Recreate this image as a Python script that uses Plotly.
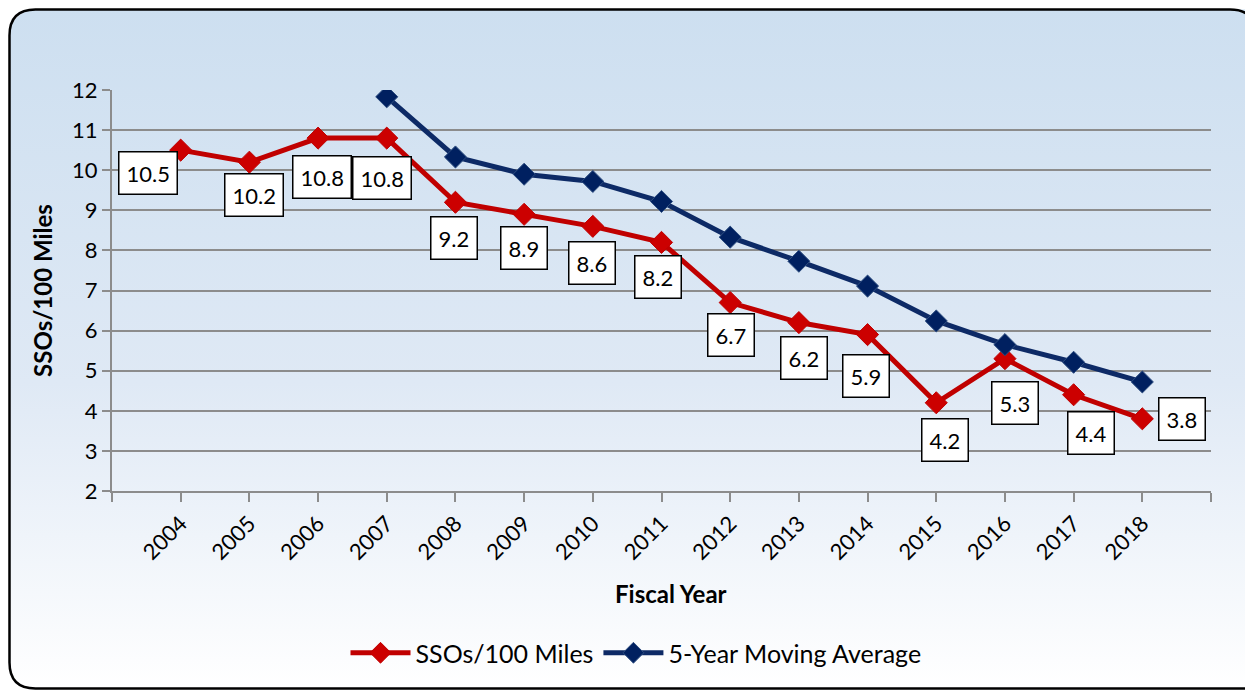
import base64
import plotly.graph_objects as go

years = [2004, 2005, 2006, 2007, 2008, 2009, 2010, 2011, 2012, 2013, 2014, 2015, 2016, 2017, 2018]
sso_per_100 = [10.5, 10.2, 10.8, 10.8, 9.2, 8.9, 8.6, 8.2, 6.7, 6.2, 5.9, 4.2, 5.3, 4.4, 3.8]
avg_years = [2007, 2008, 2009, 2010, 2011, 2012, 2013, 2014, 2015, 2016, 2017, 2018]
moving_avg = [11.83, 10.33, 9.9, 9.72, 9.22, 8.33, 7.73, 7.11, 6.24, 5.65, 5.21, 4.72]

# where each data label box sits relative to its point (pixels, right / down)
label_offsets = [(-33, 23), (5, 33), (4, 39), (-5, 40), (-1, 36), (0, 34), (-1, 37), (-4, 35),
                 (1, 32), (5, 35), (-2, 41), (9, 37), (10, 44), (17, 38), (40, 0)]

# the page puts the figure 8px in from the top-left corner, so margins are set against that
W, H = 1253, 691
L, R, T, B = 104, 50, 82, 208
pw, ph = W - L - R, H - T - B
FONT = "Lato"


def px(fx, fy):
    # figure pixel -> paper coords
    return (fx - L) / pw, (T + ph - fy) / ph


svg = f'''<svg xmlns="http://www.w3.org/2000/svg" width="{W}" height="{H}" viewBox="0 0 {W} {H}">
<defs><linearGradient id="g" x1="0" y1="0" x2="0" y2="1">
<stop offset="0" stop-color="#cddff0"/><stop offset="0.55" stop-color="#dfe9f5"/><stop offset="1" stop-color="#ffffff"/>
</linearGradient></defs>
<rect x="1.5" y="1.5" width="1300" height="679" rx="26" ry="26" fill="url(#g)"/>
</svg>'''
bg = "data:image/svg+xml;base64," + base64.b64encode(svg.encode()).decode()

# chart frame: rounded on the left, the right side runs off the picture
pts = [("M", 1248, 27.5), ("Q", 1248, 1.5, 1222, 1.5), ("L", 27.5, 1.5), ("Q", 1.5, 1.5, 1.5, 27.5),
       ("L", 1.5, 654.5), ("Q", 1.5, 680.5, 27.5, 680.5), ("L", 1300, 680.5)]
path = ""
for p in pts:
    cmd, vals = p[0], p[1:]
    coords = []
    for i in range(0, len(vals), 2):
        a, b = px(vals[i], vals[i + 1])
        coords.append(f"{a:.5f},{b:.5f}")
    path += cmd + " ".join(coords) + " "

fig = go.Figure()
fig.add_trace(go.Scatter(
    x=years, y=sso_per_100, name="SSOs/100 Miles", mode="lines+markers",
    line=dict(color="#c00000", width=5),
    marker=dict(symbol="diamond", size=17, color="#cc0000", line=dict(color="#c00000", width=1)),
))
fig.add_trace(go.Scatter(
    x=avg_years, y=moving_avg, name="5-Year Moving Average", mode="lines+markers",
    line=dict(color="#0d2a66", width=5),
    marker=dict(symbol="diamond", size=17, color="#002060", line=dict(color="#2d4d80", width=1)),
))

for yr, v, (dx, dy) in zip(years, sso_per_100, label_offsets):
    fig.add_annotation(
        x=yr, y=v, text=f"{v:.1f}", showarrow=False, xshift=dx, yshift=-dy,
        font=dict(family=FONT, size=22, color="black"),
        bgcolor="white", bordercolor="black", borderwidth=1.5, borderpad=7,
    )

# x axis title sits a little right of the plot centre in the original
tx, ty = px(663, 585)
fig.add_annotation(
    text="<b>Fiscal Year</b>", xref="paper", yref="paper", x=tx, y=ty,
    xanchor="center", yanchor="middle",
    showarrow=False, font=dict(family=FONT, size=24, color="black"),
)

fig.add_shape(type="path", path=path, xref="paper", yref="paper", layer="below",
              line=dict(color="black", width=2.5), fillcolor="rgba(0,0,0,0)")

ticks = list(range(years[0] - 1, years[-1] + 2))
tick_text = [str(t) if t in years else "" for t in ticks]
lx, ly = px(628, 645)

fig.update_layout(
    width=W, height=H,
    margin=dict(l=L, r=R, t=T, b=B),
    paper_bgcolor="white",
    plot_bgcolor="rgba(0,0,0,0)",
    font=dict(family=FONT, size=22, color="black"),
    images=[dict(source=bg, xref="paper", yref="paper", x=-L / pw, y=1 + T / ph,
                 sizex=W / pw, sizey=H / ph, xanchor="left", yanchor="top",
                 sizing="stretch", layer="below")],
    showlegend=True,
    legend=dict(orientation="h", x=lx, y=ly,
                xanchor="center", yanchor="middle", bgcolor="rgba(0,0,0,0)",
                font=dict(family=FONT, size=25), itemwidth=60),
    xaxis=dict(
        range=[ticks[0], ticks[-1]], tickmode="array", tickvals=ticks, ticktext=tick_text,
        tickangle=-45, ticks="outside", ticklen=9, tickwidth=2, tickcolor="#8c8c8c",
        showline=True, linecolor="#8c8c8c", linewidth=2, showgrid=False, zeroline=False,
        automargin=False, tickfont=dict(family=FONT, size=22),
    ),
    yaxis=dict(
        range=[2, 12], dtick=1, ticks="outside", ticklen=8, tickwidth=2, tickcolor="#8c8c8c",
        showline=True, linecolor="#8c8c8c", linewidth=2, automargin=False,
        showgrid=True, gridcolor="#8c8c8c", gridwidth=2, zeroline=False,
        title=dict(text="<b>SSOs/100 Miles</b>", font=dict(family=FONT, size=24), standoff=13),
        tickfont=dict(family=FONT, size=22),
    ),
)

fig.write_html("out.html")
